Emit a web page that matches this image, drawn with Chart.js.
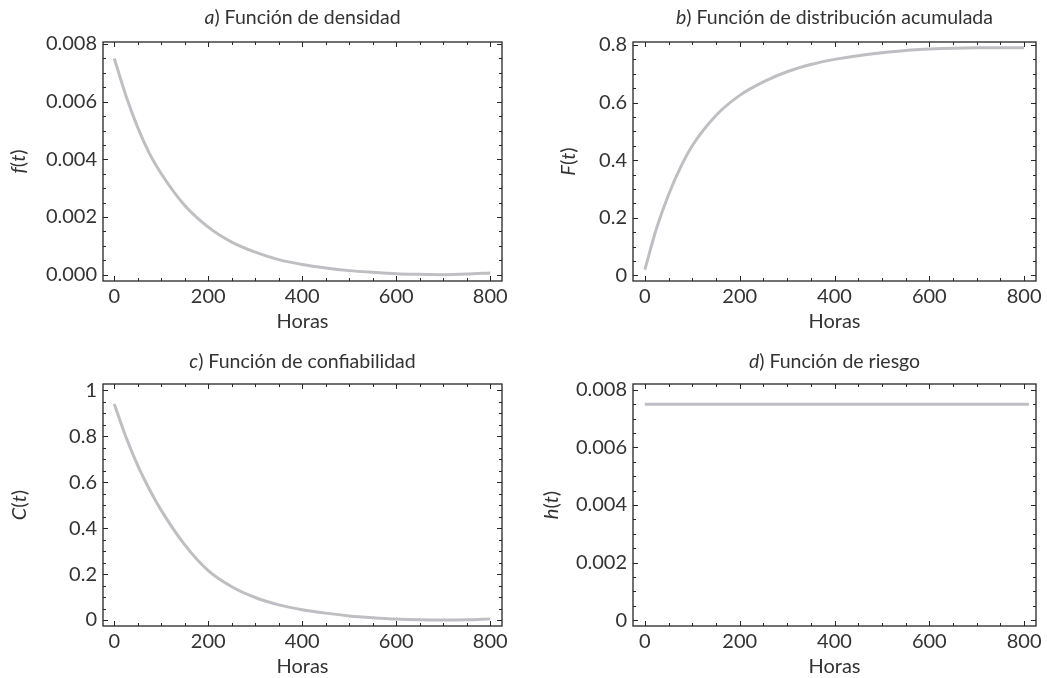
<!DOCTYPE html>
<html>
<head>
<meta charset="utf-8">
<script src="https://cdn.jsdelivr.net/npm/chart.js@4.4.0/dist/chart.umd.min.js"></script>
<style>
  body { margin: 0; background: #fff; }
  #wrap { position: relative; width: 1047px; height: 678px; }
  .cell { position: absolute; }
  canvas { display: block; }
</style>
</head>
<body>
<div id="wrap">
  <div class="cell" style="left:0;top:0"><canvas id="chartA" width="523" height="339"></canvas></div>
  <div class="cell" style="left:523px;top:0"><canvas id="chartB" width="524" height="339"></canvas></div>
  <div class="cell" style="left:0;top:339px"><canvas id="chartC" width="523" height="339"></canvas></div>
  <div class="cell" style="left:523px;top:339px"><canvas id="chartD" width="524" height="339"></canvas></div>
</div>
<script>
// valores
const horas = [0, 25, 50, 75, 100, 150, 200, 250, 300, 350, 400, 450, 500, 550, 600, 650, 700, 750, 800];
const densidad = [0.0075, 0.0062, 0.0051, 0.0042, 0.0035, 0.0024, 0.00165, 0.00113, 0.00078, 0.00052,
  0.00035, 0.00023, 0.00014, 0.00008, 0.00003, 0.00001, 0.0, 0.00002, 0.00006];
const acumulada = [0.02, 0.165, 0.28, 0.374, 0.45, 0.555, 0.625, 0.672, 0.707, 0.732,
  0.75, 0.763, 0.773, 0.781, 0.786, 0.789, 0.79, 0.79, 0.79];
const confiabilidad = [0.94, 0.795, 0.672, 0.568, 0.477, 0.327, 0.215, 0.145, 0.098, 0.066,
  0.045, 0.03, 0.018, 0.01, 0.004, 0.001, 0.0, 0.001, 0.005];
const horasRiesgo = [0, 810];
const riesgo = [0.0075, 0.0075];

const xTicks = ['0', '200', '400', '600', '800'];
const yTicksA = ['0.000', '0.002', '0.004', '0.006', '0.008'];
const yTicksB = ['0', '0.2', '0.4', '0.6', '0.8'];
const yTicksC = ['0', '0.2', '0.4', '0.6', '0.8', '1'];
const yTicksD = ['0', '0.002', '0.004', '0.006', '0.008'];

const FONT = 'Lato, "Open Sans", sans-serif';
const TEXT = '#333333';
const LINE = '#bfbfc3';

function drawRich(ctx, segs, x, y, size) {
  // segs: [texto, italica]
  let w = 0;
  segs.forEach(s => {
    ctx.font = (s[1] ? 'italic ' : '') + size + 'px ' + FONT;
    w += ctx.measureText(s[0]).width;
  });
  let cx = x - w / 2;
  ctx.textAlign = 'left';
  segs.forEach(s => {
    ctx.font = (s[1] ? 'italic ' : '') + size + 'px ' + FONT;
    ctx.fillText(s[0], cx, y);
    cx += ctx.measureText(s[0]).width;
  });
}

function eachStep(min, max, step, fn) {
  for (let k = Math.ceil(min / step - 1e-9); k * step <= max + 1e-12; k++) fn(k * step);
}

const panelDecor = {
  id: 'panelDecor',
  afterDraw(chart, args, o) {
    const {ctx, chartArea: a, scales: {x, y}} = chart;
    ctx.save();
    ctx.strokeStyle = '#262626';
    ctx.lineWidth = 1.3;
    ctx.strokeRect(a.left, a.top, a.right - a.left, a.bottom - a.top);

    ctx.lineWidth = 1;
    ctx.beginPath();
    eachStep(x.min, x.max, o.xMinor, v => {
      const major = Math.abs(v / o.xMajor - Math.round(v / o.xMajor)) < 1e-6;
      const len = major ? 5 : 3;
      const px = Math.round(x.getPixelForValue(v)) + 0.5;
      ctx.moveTo(px, a.bottom); ctx.lineTo(px, a.bottom - len);
      ctx.moveTo(px, a.top); ctx.lineTo(px, a.top + len);
    });
    eachStep(y.min, y.max, o.yMinor, v => {
      const major = Math.abs(v / o.yMajor - Math.round(v / o.yMajor)) < 1e-6;
      const len = major ? 5 : 3;
      const py = Math.round(y.getPixelForValue(v)) + 0.5;
      ctx.moveTo(a.left, py); ctx.lineTo(a.left + len, py);
      ctx.moveTo(a.right, py); ctx.lineTo(a.right - len, py);
    });
    ctx.stroke();

    ctx.fillStyle = TEXT;
    ctx.textBaseline = 'alphabetic';
    const mid = (a.left + a.right) / 2;
    drawRich(ctx, [[o.letter, true], [') ' + o.title, false]], mid, a.top - o.titleGap, 19.5);
    drawRich(ctx, [['Horas', false]], mid, a.bottom + 47, 20);

    ctx.translate(a.left - o.yTitleGap, (a.top + a.bottom) / 2);
    ctx.rotate(-Math.PI / 2);
    ctx.textBaseline = 'middle';
    drawRich(ctx, [[o.yName, true], ['(', false], ['t', true], [')', false]], 0, 0, 20);
    ctx.restore();
  }
};

function makePanel(id, xs, ys, yLabels, box, ranges, deco) {
  const xVals = xTicks.map(Number);
  const yVals = yLabels.map(Number);
  return new Chart(document.getElementById(id), {
    type: 'line',
    data: {
      datasets: [{
        data: xs.map((h, i) => ({x: h, y: ys[i]})),
        borderColor: LINE,
        borderWidth: 3,
        pointRadius: 0,
        cubicInterpolationMode: 'monotone',
        fill: false
      }]
    },
    options: {
      responsive: false,
      animation: false,
      layout: {padding: {top: box.top, right: box.right, left: 0, bottom: 0}},
      plugins: {
        legend: {display: false},
        tooltip: {enabled: false},
        panelDecor: deco
      },
      scales: {
        x: {
          type: 'linear',
          min: ranges.xmin, max: ranges.xmax,
          grid: {display: false, drawTicks: false},
          border: {display: false},
          afterBuildTicks: s => { s.ticks = xVals.map(v => ({value: v})); },
          afterFit: s => { s.height = box.bottom; s.paddingLeft = 0; s.paddingRight = 0; },
          ticks: {
            padding: 4,
            color: TEXT,
            font: {family: FONT, size: 20},
            maxRotation: 0,
            callback: (v, i) => xTicks[i]
          }
        },
        y: {
          type: 'linear',
          min: ranges.ymin, max: ranges.ymax,
          grid: {display: false, drawTicks: false},
          border: {display: false},
          afterBuildTicks: s => { s.ticks = yVals.map(v => ({value: v})); },
          afterFit: s => { s.width = box.left; s.paddingTop = 0; s.paddingBottom = 0; },
          ticks: {
            padding: 6,
            color: TEXT,
            font: {family: FONT, size: 20},
            callback: (v, i) => yLabels[i]
          }
        }
      }
    },
    plugins: [panelDecor]
  });
}

makePanel('chartA', horas, densidad, yTicksA,
  {left: 103, top: 42, right: 21, bottom: 58},
  {xmin: -24, xmax: 825, ymin: -0.00022, ymax: 0.00807},
  {letter: 'a', title: 'Función de densidad', yName: 'f', xMinor: 50, xMajor: 200,
   yMinor: 0.0005, yMajor: 0.002, titleGap: 18, yTitleGap: 84});

makePanel('chartB', horas, acumulada, yTicksB,
  {left: 110, top: 42, right: 11, bottom: 58},
  {xmin: -25, xmax: 825, ymin: -0.0198, ymax: 0.8104},
  {letter: 'b', title: 'Función de distribución acumulada', yName: 'F', xMinor: 50, xMajor: 200,
   yMinor: 0.05, yMajor: 0.2, titleGap: 18, yTitleGap: 64});

makePanel('chartC', horas, confiabilidad, yTicksC,
  {left: 103, top: 45, right: 21, bottom: 52},
  {xmin: -24, xmax: 825, ymin: -0.026, ymax: 1.027},
  {letter: 'c', title: 'Función de confiabilidad', yName: 'C', xMinor: 50, xMajor: 200,
   yMinor: 0.05, yMajor: 0.2, titleGap: 16, yTitleGap: 83});

makePanel('chartD', horasRiesgo, riesgo, yTicksD,
  {left: 110, top: 45, right: 11, bottom: 52},
  {xmin: -25, xmax: 825, ymin: -0.0002, ymax: 0.0082},
  {letter: 'd', title: 'Función de riesgo', yName: 'h', xMinor: 50, xMajor: 200,
   yMinor: 0.0005, yMajor: 0.002, titleGap: 16, yTitleGap: 81});
</script>
</body>
</html>
